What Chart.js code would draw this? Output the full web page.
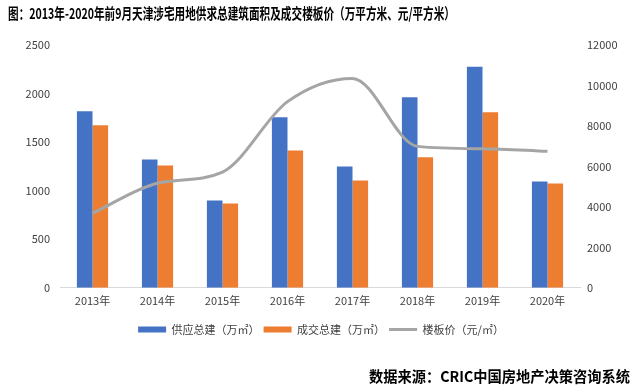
<!DOCTYPE html>
<html>
<head>
<meta charset="utf-8">
<script src="https://cdn.jsdelivr.net/npm/chart.js@4"></script>
<style>
  html, body { margin: 0; padding: 0; background: #fff; }
  #wrap { width: 642px; height: 392px; }
</style>
</head>
<body>
<div id="wrap"><canvas id="chart" width="642" height="392"></canvas></div>
<script>
const years = ['2013年', '2014年', '2015年', '2016年', '2017年', '2018年', '2019年', '2020年'];
const supply = [1818, 1322, 899, 1756, 1250, 1963, 2276, 1095];
const deal = [1673, 1260, 868, 1415, 1105, 1343, 1808, 1074];
const price = [3684, 5170, 5717, 9200, 10350, 6990, 6876, 6744];
const leftTicks = [0, 500, 1000, 1500, 2000, 2500];
const rightTicks = [0, 2000, 4000, 6000, 8000, 10000, 12000];

const titleText = '图：2013年-2020年前9月天津涉宅用地供求总建筑面积及成交楼板价（万平方米、元/平方米）';
const sourceText = '数据来源：CRIC中国房地产决策咨询系统';
const cjk = '"Noto Sans CJK SC", "Noto Sans", sans-serif';

// title and source drawn as plain text
const textPlugin = {
    id: 'texts',
    afterDraw(chart) {
        const ctx = chart.ctx;
        ctx.save();
        ctx.fillStyle = '#000';
        ctx.textBaseline = 'middle';
        ctx.textAlign = 'left';
        ctx.font = 'bold 15px ' + cjk;
        ctx.fillText(titleText, 8, 13, 447);
        ctx.fillText(sourceText, 369, 376, 261);
        ctx.restore();
    }
};

window.onload = function () {
    const ctx = document.getElementById('chart').getContext('2d');
    new Chart(ctx, {
        data: {
            labels: years,
            datasets: [
                {
                    type: 'line',
                    label: '楼板价（元/㎡）',
                    data: price,
                    yAxisID: 'y1',
                    borderColor: '#A5A5A5',
                    backgroundColor: '#A5A5A5',
                    borderWidth: 3,
                    pointRadius: 0,
                    pointStyle: 'line',
                    cubicInterpolationMode: 'monotone',
                    order: 0
                },
                {
                    type: 'bar',
                    label: '供应总建（万㎡）',
                    data: supply,
                    yAxisID: 'y',
                    backgroundColor: '#4472C4',
                    pointStyle: 'rect',
                    categoryPercentage: 0.48,
                    barPercentage: 1.0,
                    order: 1
                },
                {
                    type: 'bar',
                    label: '成交总建（万㎡）',
                    data: deal,
                    yAxisID: 'y',
                    backgroundColor: '#ED7D31',
                    pointStyle: 'rect',
                    categoryPercentage: 0.48,
                    barPercentage: 1.0,
                    order: 2
                }
            ]
        },
        options: {
            responsive: false,
            animation: false,
            layout: {
                padding: { top: 45, left: 0, right: 0, bottom: 47 }
            },
            scales: {
                x: {
                    grid: { display: false, drawTicks: false },
                    border: { color: '#D9D9D9', width: 1 },
                    afterFit: function (scale) { scale.height += 7; },
                    ticks: { color: '#404040', font: { size: 11, family: cjk }, padding: 6, maxRotation: 0 }
                },
                y: {
                    position: 'left',
                    min: 0,
                    max: 2500,
                    afterBuildTicks: function (scale) {
                        scale.ticks = leftTicks.map(function (v) { return { value: v }; });
                    },
                    afterFit: function (scale) { scale.width = 60; },
                    grid: { display: false, drawTicks: false },
                    border: { display: false },
                    ticks: {
                        color: '#404040', font: { size: 11, family: cjk }, padding: 10,
                        callback: function (v) { return String(v); }
                    }
                },
                y1: {
                    position: 'right',
                    min: 0,
                    max: 12000,
                    afterBuildTicks: function (scale) {
                        scale.ticks = rightTicks.map(function (v) { return { value: v }; });
                    },
                    afterFit: function (scale) { scale.width = 62; },
                    grid: { display: false, drawTicks: false },
                    border: { display: false },
                    ticks: {
                        color: '#404040', font: { size: 11, family: cjk }, padding: 7,
                        callback: function (v) { return String(v); }
                    }
                }
            },
            plugins: {
                legend: {
                    position: 'bottom',
                    labels: {
                        color: '#404040',
                        font: { size: 11, family: cjk },
                        usePointStyle: true,
                        pointStyleWidth: 28,
                        boxHeight: 6,
                        padding: 4,
                        generateLabels: function (chart) {
                            const items = Chart.defaults.plugins.legend.labels.generateLabels(chart);
                            items.forEach(function (it) {
                                if (it.datasetIndex === 0) {
                                    it.pointStyle = 'line';
                                    it.lineWidth = 3;
                                    it.strokeStyle = '#A5A5A5';
                                } else {
                                    it.pointStyle = 'rect';
                                    it.lineWidth = 0;
                                }
                            });
                            const rank = [2, 0, 1];
                            items.sort(function (a, b) { return rank[a.datasetIndex] - rank[b.datasetIndex]; });
                            return items;
                        }
                    }
                },
                tooltip: { enabled: false }
            }
        },
        plugins: [textPlugin]
    });
};
</script>
</body>
</html>
